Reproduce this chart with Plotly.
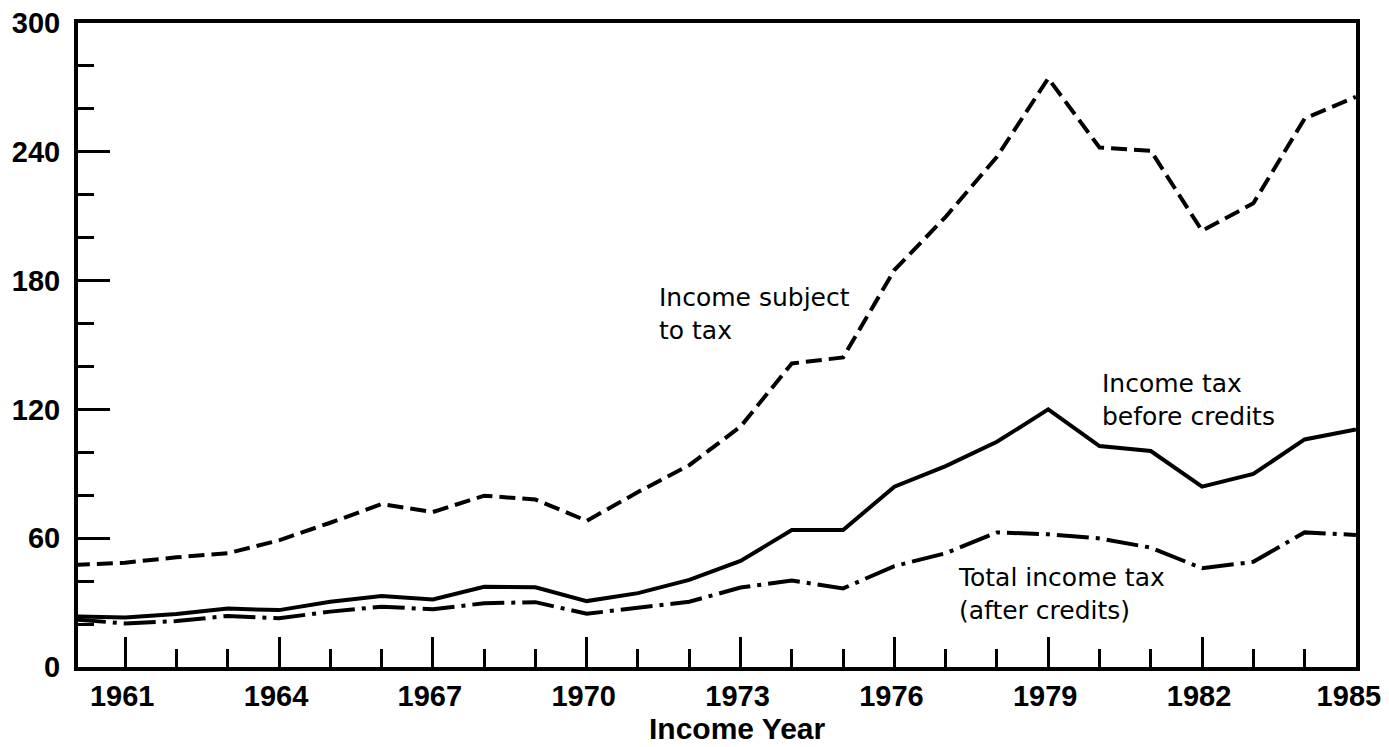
import plotly.graph_objects as go

years = list(range(1960, 1986))

income_subject_to_tax = [47.5, 48.6, 51.1, 53.0, 59.0, 67.2, 75.9, 72.2, 79.8, 78.0,
                         68.1, 81.5, 94.0, 112.0, 141.4, 144.2, 184.9, 209.7, 237.7, 274.2,
                         242.0, 240.5, 203.2, 216.0, 255.5, 265.6]

income_tax_before_credits = [23.5, 23.1, 24.7, 27.2, 26.5, 30.4, 33.1, 31.5, 37.4, 37.1,
                             30.7, 34.4, 40.6, 49.4, 63.8, 63.8, 84.0, 93.6, 104.9, 120.0,
                             102.9, 100.6, 84.0, 89.9, 106.0, 110.7]

total_income_tax = [22.2, 20.3, 21.4, 23.8, 22.7, 25.8, 28.1, 26.9, 29.7, 30.2,
                    24.8, 27.6, 30.4, 37.0, 40.3, 36.6, 47.0, 53.0, 62.7, 61.8,
                    59.9, 55.6, 46.0, 49.0, 62.7, 61.5]

y_ticks = [0, 60, 120, 180, 240, 300]
x_ticks = [1961, 1964, 1967, 1970, 1973, 1976, 1979, 1982, 1985]
x_tick_labels = ["1961", "1964", "1967", "1970", "1973", "1976", "1979", "1982", "1985\u00a0"]

fig = go.Figure()

fig.add_trace(go.Scatter(x=years, y=income_subject_to_tax, mode="lines",
                         line=dict(color="black", width=4, dash="16px,7px"),
                         showlegend=False))
fig.add_trace(go.Scatter(x=years, y=income_tax_before_credits, mode="lines",
                         line=dict(color="black", width=4),
                         showlegend=False))
fig.add_trace(go.Scatter(x=years, y=total_income_tax, mode="lines",
                         line=dict(color="black", width=4, dash="32px,7px,4px,7px"),
                         showlegend=False))

label_font = dict(family="DejaVu Sans", size=25, color="black")
tick_font = dict(family="Liberation Sans", size=29, color="black", weight="bold")

fig.add_annotation(x=1971.37, y=164.4, xref="x", yref="y", xanchor="left", yanchor="middle",
                   text="Income subject<br>to tax", showarrow=False, align="left", font=label_font)
fig.add_annotation(x=1980.0, y=124.4, xref="x", yref="y", xanchor="left", yanchor="middle",
                   text="Income tax<br>before credits", showarrow=False, align="left", font=label_font)
fig.add_annotation(x=1977.2, y=34.0, xref="x", yref="y", xanchor="left", yanchor="middle",
                   text="Total income tax<br>(after credits)", showarrow=False, align="left", font=label_font)
fig.add_annotation(x=0.5164, y=-0.095, xref="paper", yref="paper", xanchor="center", yanchor="middle",
                   text="<b>Income Year</b>", showarrow=False,
                   font=dict(family="Liberation Sans", size=30, color="black"))

fig.update_xaxes(range=[1960.08, 1985.002], tickvals=x_ticks, ticktext=x_tick_labels,
                 ticks="inside", ticklen=30, tickwidth=3, tickcolor="black",
                 minor=dict(ticks="inside", ticklen=18, tickwidth=3, tickcolor="black", dtick=1, tick0=1960),
                 showline=True, linewidth=4, linecolor="black", mirror=True,
                 showgrid=False, zeroline=False, tickfont=tick_font, automargin=False,
                 ticklabeloverflow="allow", ticklabelshift=-3)
fig.update_yaxes(range=[0, 300], tickvals=y_ticks, ticktext=[str(v) for v in y_ticks],
                 ticks="inside", ticklen=32, tickwidth=3, tickcolor="black",
                 minor=dict(ticks="inside", ticklen=16, tickwidth=3, tickcolor="black", dtick=20, tick0=0),
                 showline=True, linewidth=4, linecolor="black", mirror=True,
                 showgrid=False, zeroline=False, tickfont=tick_font, ticklabelstandoff=8,
                 automargin=False, ticklabeloverflow="allow")

# the page body adds an 8px margin, so the figure is 8px smaller on each axis
fig.update_layout(width=1381, height=739, margin=dict(l=70, r=33, t=15, b=80, autoexpand=False),
                  paper_bgcolor="white", plot_bgcolor="white")

fig.write_html("out.html")
